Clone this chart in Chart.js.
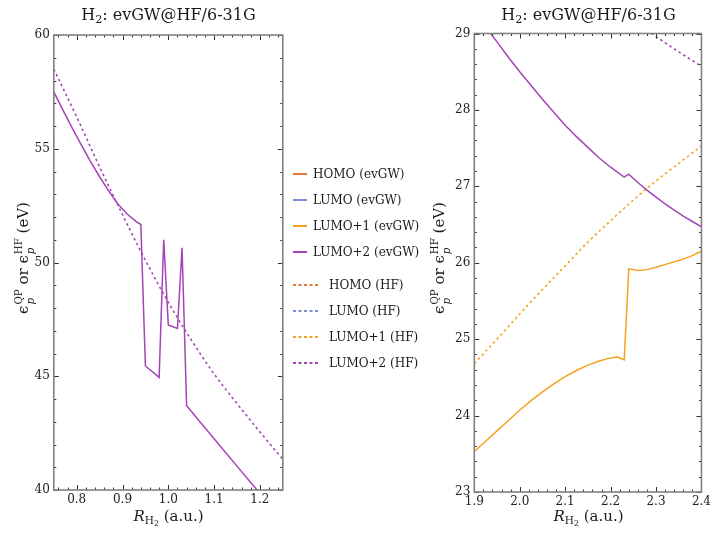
<!DOCTYPE html>
<html lang="en">
<head>
<meta charset="UTF-8">
<title>H2: evGW@HF/6-31G</title>
<script src="https://cdn.jsdelivr.net/npm/chart.js"></script>
<style>
    body { margin: 0; background: #fff; }
    #figure {
        position: relative;
        width: 714px;
        height: 534px;
        font-family: 'DejaVu Serif', serif;
        color: #1a1a1a;
    }
    .panel { position: absolute; top: 0; height: 534px; }
    .title, .xlabel {
        position: absolute;
        text-align: center;
        white-space: nowrap;
    }
    .title { font-size: 16px; line-height: 16px; }
    .xlabel { font-size: 15px; line-height: 15px; }
    .ylabel {
        position: absolute;
        width: 200px;
        height: 20px;
        font-size: 15px;
        line-height: 20px;
        text-align: center;
        white-space: nowrap;
        transform: rotate(-90deg);
    }
    .sub { font-size: 0.7em; vertical-align: -0.3em; line-height: 0; }
    .ss {
        display: inline-block;
        font-size: 0.68em;
        line-height: 1.1;
        vertical-align: -0.55em;
        text-align: left;
        margin-left: 1px;
    }
    .ss span { display: block; }
    #legend {
        position: absolute;
        left: 293px;
        top: 161px;
        font-size: 12px;
    }
    .item { display: flex; align-items: center; height: 26px; white-space: nowrap; }
    .item svg { display: block; }
    .gap { height: 7px; }
</style>
</head>
<body>
<div id="figure">
    <div class="panel" style="left:0; width:290px;"><canvas id="leftChart"></canvas></div>
    <div class="panel" style="left:420px; width:294px;"><canvas id="rightChart"></canvas></div>

    <div class="title" style="left:54px; width:229px; top:7px;">H<span class="sub">2</span>: evGW@HF/6-31G</div>
    <div class="title" style="left:474px; width:229px; top:7px;">H<span class="sub">2</span>: evGW@HF/6-31G</div>

    <div class="xlabel" style="left:54px; width:229px; top:509px;"><i>R</i><span class="sub">H<span style="font-size:0.75em; vertical-align:-0.25em;">2</span></span> (a.u.)</div>
    <div class="xlabel" style="left:474px; width:229px; top:509px;"><i>R</i><span class="sub">H<span style="font-size:0.75em; vertical-align:-0.25em;">2</span></span> (a.u.)</div>

    <div class="ylabel" style="left:-77px; top:248px;">ϵ<span class="ss"><span>QP</span><span><i>p</i></span></span> or ϵ<span class="ss"><span>HF</span><span><i>p</i></span></span> (eV)</div>
    <div class="ylabel" style="left:339px; top:248px;">ϵ<span class="ss"><span>QP</span><span><i>p</i></span></span> or ϵ<span class="ss"><span>HF</span><span><i>p</i></span></span> (eV)</div>

    <div id="legend"></div>
</div>

<script>
// orbital colours and legend names
const orbitals = ['HOMO', 'LUMO', 'LUMO+1', 'LUMO+2'];
const orbitalColors = ['#ec7436', '#7f8ed2', '#f4a21e', '#a444b6'];

// labelled ticks
const leftXTicks = [0.8, 0.9, 1.0, 1.1, 1.2];
const leftYTicks = [40, 45, 50, 55, 60];
const rightXTicks = [1.9, 2.0, 2.1, 2.2, 2.3, 2.4];
const rightYTicks = [23, 24, 25, 26, 27, 28, 29];

// ---- left window, R = 0.75 .. 1.25 (only LUMO+2 falls inside 40..60 eV) ----
const rLeftGW = [0.75, 0.77, 0.79, 0.81, 0.83, 0.85, 0.87, 0.89, 0.91, 0.93, 0.94,
                 0.95, 0.98, 0.99, 1.00, 1.02, 1.03, 1.04, 1.10, 1.15, 1.20, 1.25];
const lumo2GWLeft = [57.50, 56.70, 55.92, 55.17, 54.45, 53.77, 53.14, 52.57, 52.13, 51.80, 51.67,
                     45.45, 44.95, 51.00, 47.25, 47.10, 50.65, 43.70, 42.25, 41.05, 39.85, 38.65];

const rLeftHF = [0.75, 0.80, 0.85, 0.90, 0.95, 1.00, 1.05, 1.10, 1.15, 1.20, 1.25];
const lumo2HFLeft = [58.50, 56.40, 54.20, 52.10, 50.10, 48.25, 46.60, 45.10, 43.80, 42.55, 41.35];

// ---- right window, R = 1.9 .. 2.4 ----
const rRightGW1 = [1.900, 1.925, 1.950, 1.975, 2.000, 2.025, 2.050, 2.075, 2.100, 2.125, 2.150,
                   2.175, 2.200, 2.215, 2.230, 2.240, 2.260, 2.280, 2.300, 2.325, 2.350, 2.375, 2.400];
const lumo1GWRight = [23.53, 23.665, 23.80, 23.935, 24.07, 24.195, 24.31, 24.415, 24.51, 24.59, 24.66,
                      24.715, 24.755, 24.765, 24.73, 25.92, 25.90, 25.91, 25.94, 25.985, 26.03, 26.08, 26.15];

const rRightGW2 = [1.900, 1.925, 1.950, 1.975, 2.000, 2.025, 2.050, 2.075, 2.100, 2.125, 2.150, 2.175,
                   2.200, 2.230, 2.240, 2.260, 2.280, 2.300, 2.320, 2.340, 2.360, 2.380, 2.400];
const lumo2GWRight = [29.30, 29.09, 28.89, 28.69, 28.50, 28.32, 28.14, 27.97, 27.80, 27.65, 27.51, 27.37,
                      27.25, 27.12, 27.16, 27.05, 26.95, 26.86, 26.77, 26.69, 26.61, 26.54, 26.47];

const rRightHF1 = [1.90, 1.95, 2.00, 2.05, 2.10, 2.15, 2.20, 2.25, 2.30, 2.35, 2.40];
const lumo1HFRight = [24.68, 25.00, 25.33, 25.65, 25.96, 26.27, 26.55, 26.82, 27.07, 27.30, 27.53];

const rRightHF2 = [2.25, 2.30, 2.35, 2.40];
const lumo2HFRight = [29.17, 28.96, 28.76, 28.57];

const pts = (xs, ys) => xs.map((x, i) => ({ x: x, y: ys[i] }));

function gwSet(label, xs, ys, color) {
    return { label: label, data: pts(xs, ys), borderColor: color, borderWidth: 1.5,
             pointRadius: 0, tension: 0, fill: false };
}
function hfSet(label, xs, ys, color) {
    return { label: label, data: pts(xs, ys), borderColor: color, borderWidth: 1.6,
             borderDash: [2.5, 3], pointRadius: 0, cubicInterpolationMode: 'monotone', fill: false };
}

// Mathematica-style frame: grey box with inward major/minor ticks on all four sides
const frameTicks = {
    id: 'frameTicks',
    afterDraw(chart, args, opts) {
        const ctx = chart.ctx;
        const a = chart.chartArea;
        const xs = chart.scales.x, ys = chart.scales.y;
        const values = (min, max, step) => {
            const out = [];
            for (let k = Math.ceil(min / step - 1e-6); k <= Math.floor(max / step + 1e-6); k++) out.push(k * step);
            return out;
        };
        const isMajor = (v, major) => Math.abs(v / major - Math.round(v / major)) < 1e-6;
        ctx.save();
        ctx.strokeStyle = '#333';
        ctx.lineWidth = 1;
        ctx.beginPath();
        values(xs.min, xs.max, opts.xMinor).forEach(v => {
            const len = isMajor(v, opts.xMajor) ? 5 : 2.5;
            const px = Math.round(xs.getPixelForValue(v)) + 0.5;
            ctx.moveTo(px, a.bottom); ctx.lineTo(px, a.bottom - len);
            ctx.moveTo(px, a.top); ctx.lineTo(px, a.top + len);
        });
        values(ys.min, ys.max, opts.yMinor).forEach(v => {
            const len = isMajor(v, opts.yMajor) ? 5 : 2.5;
            const py = Math.round(ys.getPixelForValue(v)) + 0.5;
            ctx.moveTo(a.left, py); ctx.lineTo(a.left + len, py);
            ctx.moveTo(a.right, py); ctx.lineTo(a.right - len, py);
        });
        ctx.stroke();
        ctx.strokeStyle = '#808080';
        ctx.lineWidth = 1.6;
        ctx.strokeRect(a.left, a.top, a.right - a.left, a.bottom - a.top);
        ctx.restore();
    }
};

Chart.defaults.font.family = "'DejaVu Serif', serif";
Chart.defaults.font.size = 12;
Chart.defaults.color = '#222';

function makeChart(id, datasets, cfg) {
    return new Chart(document.getElementById(id), {
        type: 'line',
        data: { datasets: datasets },
        options: {
            animation: false,
            responsive: true,
            maintainAspectRatio: false,
            layout: { padding: { top: cfg.top, right: cfg.right, left: 0, bottom: 0 } },
            plugins: {
                legend: { display: false },
                tooltip: { enabled: false },
                frameTicks: cfg.ticks
            },
            scales: {
                x: {
                    type: 'linear',
                    min: cfg.xMin, max: cfg.xMax,
                    grid: { display: false, drawTicks: false },
                    border: { display: false },
                    ticks: { autoSkip: false, maxRotation: 0, padding: 3, callback: v => v.toFixed(1) },
                    afterBuildTicks: s => { s.ticks = cfg.xTicks.map(v => ({ value: v })); },
                    afterFit: s => { s.height = cfg.xHeight; }
                },
                y: {
                    min: cfg.yMin, max: cfg.yMax,
                    grid: { display: false, drawTicks: false },
                    border: { display: false },
                    ticks: { padding: 4 },
                    afterBuildTicks: s => { s.ticks = cfg.yTicks.map(v => ({ value: v })); },
                    afterFit: s => { s.width = cfg.yWidth; }
                }
            }
        },
        plugins: [frameTicks]
    });
}

makeChart('leftChart', [
    gwSet('LUMO+2 (evGW)', rLeftGW, lumo2GWLeft, orbitalColors[3]),
    hfSet('LUMO+2 (HF)', rLeftHF, lumo2HFLeft, orbitalColors[3])
], { top: 35, right: 7.2, xHeight: 44, yWidth: 53.8,
     xMin: 0.75, xMax: 1.25, yMin: 40, yMax: 60, xTicks: leftXTicks, yTicks: leftYTicks,
     ticks: { xMinor: 0.02, xMajor: 0.1, yMinor: 1, yMajor: 5 } });

makeChart('rightChart', [
    gwSet('LUMO+1 (evGW)', rRightGW1, lumo1GWRight, orbitalColors[2]),
    gwSet('LUMO+2 (evGW)', rRightGW2, lumo2GWRight, orbitalColors[3]),
    hfSet('LUMO+1 (HF)', rRightHF1, lumo1HFRight, orbitalColors[2]),
    hfSet('LUMO+2 (HF)', rRightHF2, lumo2HFRight, orbitalColors[3])
], { top: 33.5, right: 10.7, xHeight: 42, yWidth: 54.3,
     xMin: 1.9, xMax: 2.4, yMin: 23, yMax: 29, xTicks: rightXTicks, yTicks: rightYTicks,
     ticks: { xMinor: 0.02, xMajor: 0.1, yMinor: 0.2, yMajor: 1 } });

// legend: evGW entries solid, HF entries dashed
const legend = document.getElementById('legend');
function addItem(name, color, dashed) {
    const w = dashed ? 27 : 14;
    const row = document.createElement('div');
    row.className = 'item';
    row.innerHTML =
        `<svg width="${w}" height="4"><line x1="0" y1="2" x2="${w}" y2="2" stroke="${color}" stroke-width="2"` +
        (dashed ? ' stroke-dasharray="3 2.5"' : '') + `/></svg>` +
        `<span style="margin-left:${dashed ? 9 : 6}px">${name}</span>`;
    legend.appendChild(row);
}
orbitals.forEach((o, i) => addItem(o + ' (evGW)', orbitalColors[i], false));
const spacer = document.createElement('div');
spacer.className = 'gap';
legend.appendChild(spacer);
orbitals.forEach((o, i) => addItem(o + ' (HF)', orbitalColors[i], true));
</script>
</body>
</html>
